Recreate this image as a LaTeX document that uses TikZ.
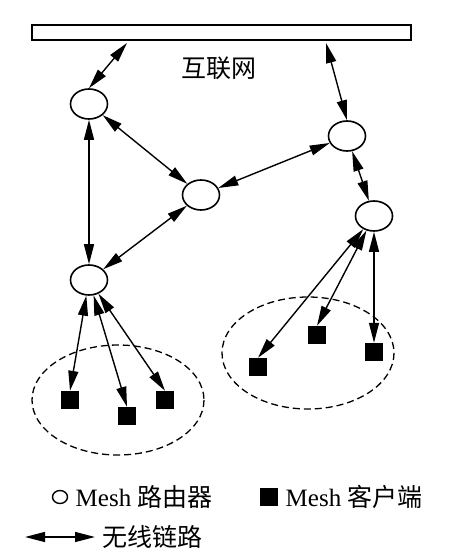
\documentclass[tikz,border=0pt]{standalone}
\usepackage{fontspec}
\setmainfont{Liberation Serif}
\newfontfamily\cjk{Noto Sans CJK SC}
\usetikzlibrary{arrows.meta}
\usetikzlibrary{shapes.geometric}
\usetikzlibrary{positioning}

\tikzset{
  router/.style={ellipse, draw, line width=1.6pt, minimum width=37pt, minimum height=30pt, inner sep=0pt},
  client/.style={rectangle, fill=black, minimum size=18pt, inner sep=0pt},
  link/.style={{Triangle[length=20pt,width=10pt]}-{Triangle[length=20pt,width=10pt]}, line width=1.4pt},
  cell/.style={dashed, dash pattern=on 7pt off 4pt, line width=1.3pt},
}

\begin{document}
\begin{tikzpicture}[x=1pt, y=-1pt, font=\fontsize{25}{29}\selectfont]
      \useasboundingbox (0,0) rectangle (450,553);

      % internet
      \node (net) [draw, line width=1.6pt, minimum width=379pt, minimum height=15pt, inner sep=0pt] at (221.5,32.5) {};
      \node (inet) at (219,68) {\cjk 互联网};
      \coordinate (netL) at (127,43);
      \coordinate (netR) at (326,43);

      % mesh routers
      \node (rA) [router] at (89,104) {};
      \node (rB) [router] at (201,195) {};
      \node (rC) [router] at (347,136) {};
      \node (rD) [router] at (374,216) {};
      \node (rE) [router] at (89,280) {};

      % client cells
      \draw [cell] (118,400) ellipse [x radius=86, y radius=55];
      \draw [cell] (308,353) ellipse [x radius=86, y radius=56];

      % mesh clients
      \node (cL1) [client] at (70,400) {};
      \node (cL2) [client] at (127,416) {};
      \node (cL3) [client] at (165,400) {};
      \node (cR1) [client] at (258,367) {};
      \node (cR2) [client] at (317,335) {};
      \node (cR3) [client] at (374,352) {};

      % wireless links
      \draw [link] (netL) -- (rA.north);
      \draw [link] (netR) -- (rC.north);
      \draw [link] (rA) -- (rB);
      \draw [link] (rA) -- (rE);
      \draw [link] (rB) -- (rC);
      \draw [link] (rB) -- (rE);
      \draw [link] (rC) -- (rD);
      \draw [link] (rE) -- (cL1.north);
      \draw [link] (rE) -- (cL2.north);
      \draw [link] (rE) -- (cL3.north);
      \draw [link] (rD) -- (cR1.north);
      \draw [link] (rD) -- (cR2.north);
      \draw [link] (rD) -- (cR3.north);

      % legend
      \node (lgr) [ellipse, draw, line width=1.4pt, minimum width=15pt, minimum height=13pt, inner sep=0pt] at (60,497) {};
      \node (lgrT) [right=4pt of lgr] {Mesh \cjk 路由器};
      \node (lgc) [client] at (269,497) {};
      \node (lgcT) [right=4pt of lgc] {Mesh \cjk 客户端};
      \coordinate (lgA) at (25,537);
      \coordinate (lgB) at (95,537);
      \draw [link] (lgA) -- (lgB);
      \node (lgaT) [right=4pt of lgB] {\cjk 无线链路};
\end{tikzpicture}
\end{document}
